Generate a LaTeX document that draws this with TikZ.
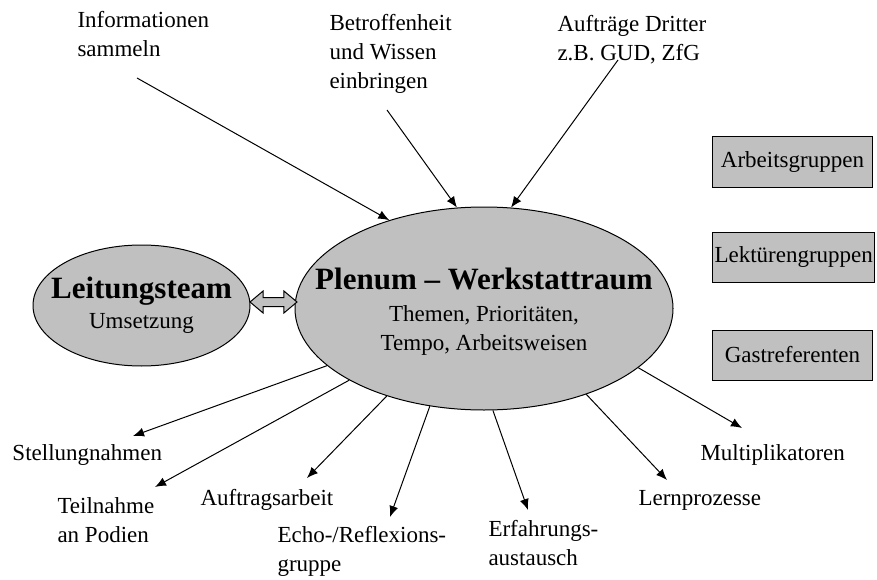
\documentclass[tikz,border=0pt]{standalone}
\usepackage{fontspec}
\setmainfont{Liberation Serif}
\usetikzlibrary{shapes.geometric,shapes.arrows,arrows.meta}
\definecolor{fillgray}{RGB}{192,192,192}
\newcommand{\lbl}[4]{\node[lbl] (#1) at (#2,#3) {#4};}
\newcommand{\gbox}[3]{\node[gbox] (#1) at (712,#2) {#3};}
\newcommand{\tip}[3]{\coordinate (#1) at (#2,#3);}
\newcommand{\inlink}[2]{\draw[->] (#1) -- (plenum.#2);}
\newcommand{\outlink}[2]{\draw[->] (plenum.#1) -- (#2);}
\newcommand{\headfont}{\fontsize{31}{31}\selectfont\bfseries}

\begin{document}
\begin{tikzpicture}[x=1pt,y=-1pt,line width=1pt,>={Latex[length=11pt,width=9pt]},
    font=\fontsize{23}{29}\selectfont,
    lbl/.style={anchor=west,align=left,inner sep=0pt},
    bubble/.style={ellipse,draw,fill=fillgray,inner sep=0pt},
    gbox/.style={draw,fill=fillgray,anchor=west,minimum width=160pt,minimum height=50pt,inner sep=2pt}]
    \useasboundingbox (0,0) rectangle (877,580);
    % ellipses
    \node[bubble,minimum width=217pt,minimum height=121pt] (leit) at (141.5,305.5) {};
    \node[align=center,inner sep=0pt] (leitT) at (leit) {{\headfont Leitungsteam}\\[1pt]Umsetzung};
    \node[bubble,minimum width=378pt,minimum height=203pt] (plenum) at (484,308.5) {};
    \node[align=center,inner sep=0pt] (plenumT) at (484,312)
        {{\headfont Plenum – Werkstattraum}\\[3pt]Themen, Prioritäten,\\Tempo, Arbeitsweisen};
    \node[double arrow,draw,fill=fillgray,minimum height=47pt,inner sep=4pt,
        double arrow head extend=6.5pt,double arrow tip angle=80] (link) at (273.5,302) {};
    % boxes right
    \gbox{ag}{162}{Arbeitsgruppen}
    \gbox{lg}{257}{Lektürengruppen}
    \gbox{gr}{355}{Gastreferenten}
    % top labels
    \lbl{info}{77}{34}{Informationen\\sammeln}
    \lbl{betr}{329}{54}{Betroffenheit\\und Wissen\\einbringen}
    \lbl{auftr}{557}{40}{Aufträge Dritter\\z.B. GUD, ZfG}
    \tip{infoA}{137}{78} \tip{betrA}{387}{110} \tip{auftrA}{618}{60}
    \inlink{infoA}{137.4} \inlink{betrA}{105.9} \inlink{auftrA}{75.6}
    % bottom labels
    \lbl{stell}{12}{455}{Stellungnahmen}
    \lbl{teiln}{57}{520}{Teilnahme\\an Podien}
    \lbl{auftrag}{200}{500}{Auftragsarbeit}
    \lbl{echo}{277}{551}{Echo-/Reflexions-\\gruppe}
    \lbl{erfahr}{488}{543}{Erfahrungs-\\austausch}
    \lbl{lern}{638}{500}{Lernprozesse}
    \lbl{multi}{700}{455}{Multiplikatoren}
    \tip{stellE}{133}{436} \tip{teilnE}{155}{487} \tip{auftragE}{307}{478}
    \tip{echoE}{390}{517} \tip{erfahrE}{528}{510} \tip{lernE}{667}{480}
    \tip{multiE}{742}{428}
    \outlink{200.4}{stellE} \outlink{208.7}{teilnE} \outlink{222.4}{auftragE}
    \outlink{241.7}{echoE} \outlink{275}{erfahrE} \outlink{320.7}{lernE}
    \outlink{339.8}{multiE}
\end{tikzpicture}
\end{document}
